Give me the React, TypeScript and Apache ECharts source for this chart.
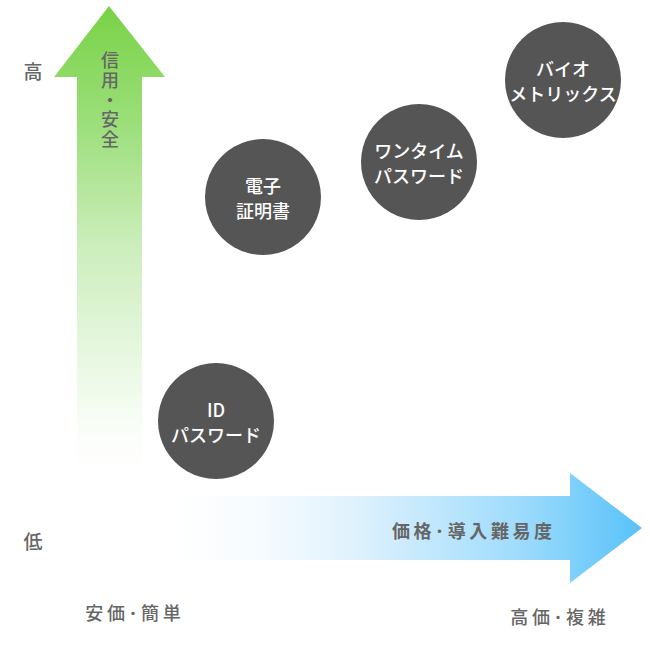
import React, { useEffect, useRef } from 'react';
import * as echarts from 'echarts';

// 認証方式（横: 価格・導入難易度、縦: 信用・安全）
const methods = ['ID\nパスワード', '電子\n証明書', 'ワンタイム\nパスワード', 'バイオ\nメトリックス'];
const costValues = [216, 263, 419, 563];
const trustValues = [229, 453, 488, 570];

const yLabels = ['高', '低'];
const xLabels = ['安価･簡単', '高価･複雑'];
const yAxisTitle = ['信', '用', '・', '安', '全'];
const xAxisTitle = '価格･導入難易度';

const FONT = '"Noto Sans CJK JP", "Noto Sans", sans-serif';
const spaced = (s: string) => s.split('').join('\u2009');

const App: React.FC = () => {
  const chartRef = useRef<HTMLDivElement>(null);

  useEffect(() => {
    document.body.style.margin = '0';
    if (!chartRef.current) return;
    const chart = echarts.init(chartRef.current, null, { renderer: 'svg' });

    const labelStyle = (text: string, size = 18, weight: string | number = 500) => ({
      text,
      fill: '#666666',
      font: `${weight} ${size}px ${FONT}`,
      align: 'center',
      verticalAlign: 'middle'
    });

    const option = {
      animation: false,
      backgroundColor: '#ffffff',
      grid: { left: 0, top: 0, width: 650, height: 650 },
      xAxis: { type: 'value', min: 0, max: 650, show: false },
      yAxis: { type: 'value', min: 0, max: 650, show: false },
      graphic: [
        // 縦矢印
        {
          type: 'polygon',
          z: 1,
          shape: {
            points: [[109, 6], [165, 77], [142, 77], [142, 492], [77, 492], [77, 77], [54, 77]]
          },
          style: {
            fill: new echarts.graphic.LinearGradient(0, 0, 0, 1, [
              { offset: 0, color: '#78d246' },
              { offset: 0.25, color: '#9ddf7c' },
              { offset: 0.5, color: '#cdeebd' },
              { offset: 0.8, color: '#f1fbed' },
              { offset: 1, color: 'rgba(255,255,255,0)' }
            ])
          }
        },
        // 横矢印
        {
          type: 'polygon',
          z: 1,
          shape: {
            points: [[140, 496], [570, 496], [570, 473], [642, 528], [570, 583], [570, 560], [140, 560]]
          },
          style: {
            fill: new echarts.graphic.LinearGradient(0, 0, 1, 0, [
              { offset: 0, color: 'rgba(255,255,255,0)' },
              { offset: 0.45, color: '#dbf0fd' },
              { offset: 0.75, color: '#a0dcfc' },
              { offset: 1, color: '#58c2fa' }
            ])
          }
        },
        ...yAxisTitle.map((ch, i) => ({
          type: 'text',
          z: 2,
          x: 110,
          y: 59 + i * 19.8,
          style: labelStyle(ch, 18)
        })),
        {
          type: 'text',
          z: 2,
          x: 472,
          y: 530,
          style: labelStyle(spaced(xAxisTitle), 18, 'bold')
        },
        { type: 'text', x: 33, y: 70, style: labelStyle(yLabels[0], 19) },
        { type: 'text', x: 33, y: 540, style: labelStyle(yLabels[1], 19) },
        { type: 'text', x: 133, y: 612, style: labelStyle(spaced(xLabels[0])) },
        { type: 'text', x: 558, y: 616, style: labelStyle(spaced(xLabels[1])) }
      ],
      series: [
        {
          type: 'scatter',
          z: 3,
          symbol: 'circle',
          symbolSize: 116,
          itemStyle: { color: '#555555', opacity: 1 },
          data: methods.map((name, i) => ({ name, value: [costValues[i], trustValues[i]] })),
          label: {
            show: true,
            position: 'inside',
            formatter: (p: any) => p.name,
            color: '#ffffff',
            fontFamily: FONT,
            fontSize: 18,
            fontWeight: 500,
            lineHeight: 25
          }
        }
      ]
    };

    chart.setOption(option);
    return () => {
      chart.dispose();
    };
  }, []);

  return <div ref={chartRef} style={{ width: 650, height: 650 }} />;
};

export default App;
